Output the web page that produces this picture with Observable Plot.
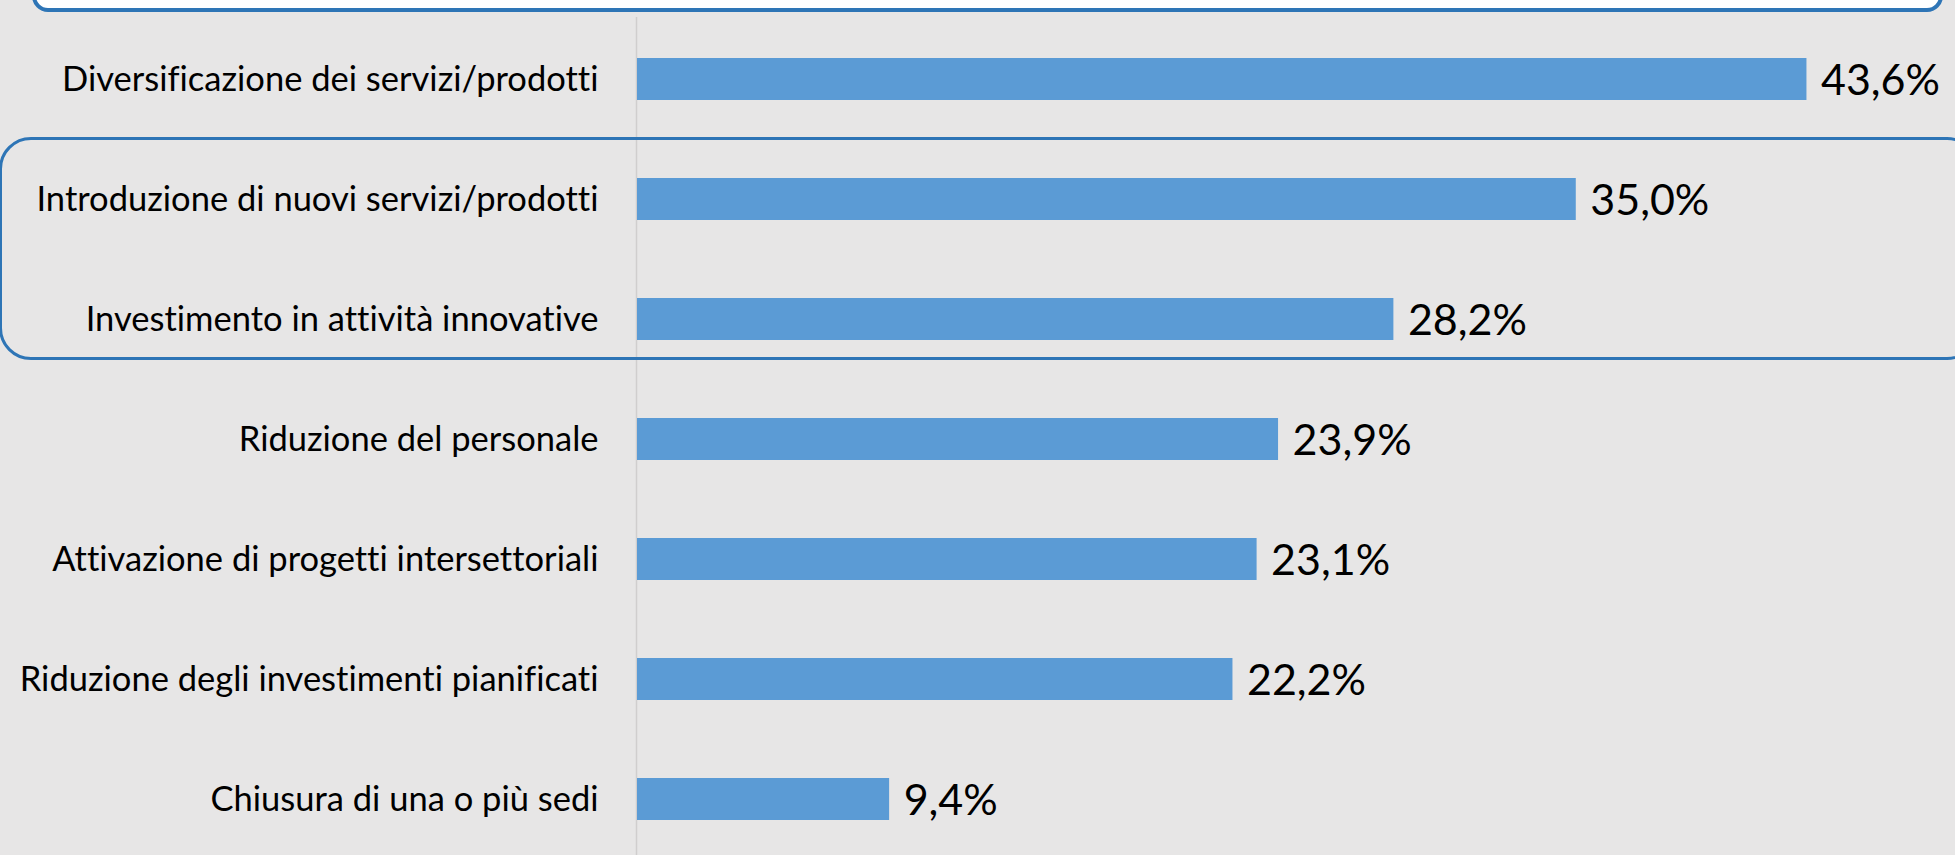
<!DOCTYPE html>
<html>
<head>
<meta charset="utf-8">
<script src="https://cdn.jsdelivr.net/npm/d3@7"></script>
<script src="https://cdn.jsdelivr.net/npm/@observablehq/plot@0.6"></script>
<style>
  html, body { margin: 0; padding: 0; background: #e7e6e6; width: 1955px; height: 855px; overflow: hidden; }
  #wrap { position: relative; width: 1955px; height: 855px; overflow: hidden; }
  #chart svg { font-variant-ligatures: none; font-feature-settings: "liga" 0; }
  .box { position: absolute; box-sizing: border-box; pointer-events: none; }
  #topbox { left: 32px; top: -60px; width: 1911px; height: 72px; background: #ffffff; border: 4px solid #2e75b6; border-radius: 16px; }
  #groupbox { left: -1px; width: 1980px; border: 3px solid #2e75b6; border-radius: 32px; background: transparent; }
</style>
</head>
<body>
<div id="wrap">
  <div id="chart"></div>
  <div class="box" id="topbox"></div>
  <div class="box" id="groupbox"></div>
</div>
<script>
const categories = [
  "Diversificazione dei servizi/prodotti",
  "Introduzione di nuovi servizi/prodotti",
  "Investimento in attività innovative",
  "Riduzione del personale",
  "Attivazione di progetti intersettoriali",
  "Riduzione degli investimenti pianificati",
  "Chiusura di una o più sedi"
];
const values = [43.6, 35.0, 28.2, 23.9, 23.1, 22.2, 9.4];
const highlighted = ["Introduzione di nuovi servizi/prodotti", "Investimento in attività innovative"];

const data = categories.map((c, i) => ({category: c, value: values[i]}));
const fmt = v => v.toFixed(1).replace(".", ",") + "%";

const chart = Plot.plot({
  width: 1955,
  height: 855,
  marginLeft: 637,
  marginRight: 111,
  marginTop: 17,
  marginBottom: 0,
  style: {background: "transparent", fontFamily: "Lato, 'Open Sans', sans-serif", fontSize: "34.5px", color: "#000000"},
  x: {domain: [0, 45], axis: null},
  y: {domain: categories, paddingInner: 0.647, paddingOuter: 0.289, align: 0.54, label: null, tickSize: 0, tickPadding: 39},
  marks: [
    Plot.ruleX([0], {stroke: "#d0cece", strokeWidth: 1.5, dx: -1}),
    Plot.barX(data, {x: "value", y: "category", fill: "#5b9bd5"}),
    Plot.text(data, {x: "value", y: "category", text: d => fmt(d.value), textAnchor: "start", dx: 14, dy: 2, fontSize: 43, fill: "#000000"})
  ]
});
document.getElementById("chart").appendChild(chart);

// position the group box around the highlighted categories using the y scale
(function () {
  const ys = chart.scale("y");
  const boxTop = ys.apply(highlighted[0]) - 41;
  const boxBottom = ys.apply(highlighted[1]) + ys.bandwidth + 20;
  const gb = document.getElementById("groupbox");
  gb.style.top = boxTop + "px";
  gb.style.height = (boxBottom - boxTop) + "px";
})();
</script>
</body>
</html>
